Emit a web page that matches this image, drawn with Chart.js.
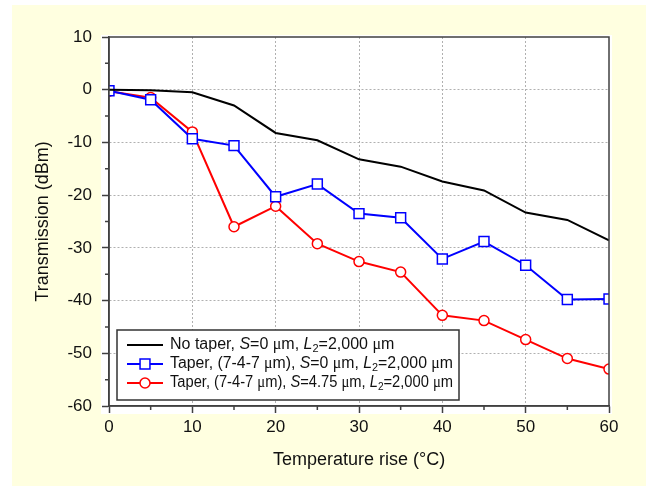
<!DOCTYPE html>
<html>
<head>
<meta charset="utf-8">
<script src="https://cdn.jsdelivr.net/npm/chart.js@4.4.0/dist/chart.umd.min.js"></script>
<style>
html, body { margin: 0; padding: 0; background: #fff; }
#wrap { position: absolute; left: 12px; top: 5px; width: 634px; height: 481px; background: #ffffe0; }
</style>
</head>
<body>
<div id="wrap"><canvas id="chart" width="634" height="481"></canvas></div>
<script>
// data
var temps = [0, 5, 10, 15, 20, 25, 30, 35, 40, 45, 50, 55, 60];
var noTaper = [0, -0.1, -0.5, -3.0, -8.2, -9.6, -13.2, -14.6, -17.4, -19.1, -23.3, -24.7, -28.6];
var taperS0 = [-0.2, -1.9, -9.3, -10.6, -20.3, -17.9, -23.5, -24.3, -32.1, -28.8, -33.3, -39.8, -39.7];
var taperS475 = [-0.3, -1.5, -8.0, -26.0, -22.1, -29.2, -32.6, -34.6, -42.8, -43.8, -47.4, -51.0, -53.0];
var xTicks = [0, 10, 20, 30, 40, 50, 60];
var yTicks = [10, 0, -10, -20, -30, -40, -50, -60];
var xMinor = [5, 15, 25, 35, 45, 55];
var yMinor = [5, -5, -15, -25, -35, -45, -55];

// legend text pieces: n = normal, i = italic, g = greek, s = subscript
var legendRuns = [
    [['No taper, ', 'n'], ['S', 'i'], ['=0 ', 'n'], ['\u03bc', 'g'], ['m, ', 'n'], ['L', 'i'], ['2', 's'], ['=2,000 ', 'n'], ['\u03bc', 'g'], ['m', 'n']],
    [['Taper, (7-4-7 ', 'n'], ['\u03bc', 'g'], ['m), ', 'n'], ['S', 'i'], ['=0 ', 'n'], ['\u03bc', 'g'], ['m, ', 'n'], ['L', 'i'], ['2', 's'], ['=2,000 ', 'n'], ['\u03bc', 'g'], ['m', 'n']],
    [['Taper, (7-4-7 ', 'n'], ['\u03bc', 'g'], ['m), ', 'n'], ['S', 'i'], ['=4.75 ', 'n'], ['\u03bc', 'g'], ['m, ', 'n'], ['L', 'i'], ['2', 's'], ['=2,000 ', 'n'], ['\u03bc', 'g'], ['m', 'n']]
];

function pairs(ys) {
    return temps.map(function (t, i) { return { x: t, y: ys[i] }; });
}

var runFonts = {
    n: '16px "Liberation Sans", Arial, sans-serif',
    i: 'italic 16px "Liberation Sans", Arial, sans-serif',
    g: '16px "Liberation Serif", "Times New Roman", serif',
    s: '11px "Liberation Sans", Arial, sans-serif'
};

function drawRuns(ctx, runs, x, y, maxW) {
    var total = 0;
    runs.forEach(function (r) {
        ctx.font = runFonts[r[1]];
        total += ctx.measureText(r[0]).width;
    });
    var sx = total > maxW ? maxW / total : 1;
    ctx.save();
    ctx.translate(x, y);
    ctx.scale(sx, 1);
    ctx.fillStyle = '#111';
    ctx.textBaseline = 'middle';
    ctx.textAlign = 'left';
    var cx = 0;
    runs.forEach(function (r) {
        ctx.font = runFonts[r[1]];
        ctx.fillText(r[0], cx, r[1] === 's' ? 4 : 0);
        cx += ctx.measureText(r[0]).width;
    });
    ctx.restore();
}

var plotBg = {
    id: 'plotBg',
    beforeDraw: function (chart) {
        var a = chart.chartArea, ctx = chart.ctx;
        ctx.save();
        ctx.fillStyle = '#fff';
        ctx.fillRect(a.left - 8, a.top - 2, a.right - a.left + 11, a.bottom - a.top + 10);
        ctx.restore();
    }
};

var frame = {
    id: 'frame',
    afterDatasetsDraw: function (chart) {
        var a = chart.chartArea, ctx = chart.ctx;
        var xs = chart.scales.x, ys = chart.scales.y;
        ctx.save();
        ctx.strokeStyle = '#404040';
        ctx.lineWidth = 1.5;
        ctx.strokeRect(a.left, a.top, a.right - a.left, a.bottom - a.top);
        ctx.beginPath();
        xMinor.forEach(function (v) {
            var px = xs.getPixelForValue(v);
            ctx.moveTo(px, a.bottom);
            ctx.lineTo(px, a.bottom + 4);
        });
        yMinor.forEach(function (v) {
            var py = ys.getPixelForValue(v);
            ctx.moveTo(a.left, py);
            ctx.lineTo(a.left - 4, py);
        });
        ctx.stroke();

        // legend box
        var bx = a.left + 8, by = a.bottom - 76, bw = 342, bh = 70;
        ctx.fillStyle = '#fff';
        ctx.fillRect(bx, by, bw, bh);
        ctx.strokeStyle = '#333';
        ctx.lineWidth = 1.5;
        ctx.strokeRect(bx, by, bw, bh);
        chart.data.datasets.forEach(function (ds, i) {
            var ry = by + 15 + i * 19;
            ctx.strokeStyle = ds.borderColor;
            ctx.lineWidth = 2;
            ctx.beginPath();
            ctx.moveTo(bx + 10, ry);
            ctx.lineTo(bx + 46, ry);
            ctx.stroke();
            if (ds.pointRadius > 0) {
                ctx.fillStyle = '#fff';
                ctx.strokeStyle = ds.borderColor;
                ctx.lineWidth = 1.5;
                Chart.helpers.drawPoint(ctx, { pointStyle: ds.pointStyle, radius: ds.pointRadius, borderWidth: 1.5 }, bx + 28, ry);
            }
            drawRuns(ctx, legendRuns[i], bx + 53, ry, 283);
        });
        ctx.restore();
    }
};

var tickFont = { family: '"Liberation Sans", Arial, sans-serif', size: 17 };
var titleFont = { family: '"Liberation Sans", Arial, sans-serif', size: 18 };

var ctx = document.getElementById('chart').getContext('2d');
var myChart = new Chart(ctx, {
    type: 'line',
    data: {
        datasets: [{
            label: 'No taper, S=0 \u03bcm, L2=2,000 \u03bcm',
            data: pairs(noTaper),
            borderColor: '#000',
            borderWidth: 2,
            pointRadius: 0
        }, {
            label: 'Taper, (7-4-7 \u03bcm), S=0 \u03bcm, L2=2,000 \u03bcm',
            data: pairs(taperS0),
            borderColor: '#0000ff',
            borderWidth: 2,
            pointStyle: 'rect',
            pointRadius: 7,
            pointBorderWidth: 1.5,
            pointBackgroundColor: '#fff'
        }, {
            label: 'Taper, (7-4-7 \u03bcm), S=4.75 \u03bcm, L2=2,000 \u03bcm',
            data: pairs(taperS475),
            borderColor: '#ff0000',
            borderWidth: 2,
            pointStyle: 'circle',
            pointRadius: 5,
            pointBorderWidth: 1.5,
            pointBackgroundColor: '#fff'
        }]
    },
    options: {
        responsive: false,
        animation: false,
        events: [],
        layout: { padding: { left: 0, right: 37, top: 32, bottom: 0 } },
        elements: { line: { tension: 0 } },
        plugins: { legend: { display: false }, tooltip: { enabled: false } },
        scales: {
            x: {
                type: 'linear',
                min: 0,
                max: 60,
                afterBuildTicks: function (scale) {
                    scale.ticks = xTicks.map(function (v) { return { value: v }; });
                },
                afterFit: function (scale) { scale.height = 80; },
                ticks: { color: '#111', font: tickFont, padding: 4, maxRotation: 0 },
                grid: {
                    color: function (c) { return c.tick && c.tick.value > 0 && c.tick.value < 60 ? '#b0b0b0' : 'rgba(0,0,0,0)'; },
                    lineWidth: 1,
                    tickColor: '#404040',
                    tickWidth: 1.5,
                    tickLength: 7
                },
                border: { color: '#404040', width: 1.5, dash: [2, 2] },
                title: { display: true, text: 'Temperature rise (\u00b0C)', color: '#111', font: titleFont, padding: { top: 0, bottom: 15 } }
            },
            y: {
                min: -60,
                max: 10,
                afterBuildTicks: function (scale) {
                    scale.ticks = yTicks.map(function (v) { return { value: v }; });
                },
                afterFit: function (scale) { scale.width = 97; },
                ticks: { color: '#111', font: tickFont, padding: 10 },
                grid: {
                    color: function (c) { return c.tick && c.tick.value > -60 && c.tick.value < 10 ? '#b0b0b0' : 'rgba(0,0,0,0)'; },
                    lineWidth: 1,
                    tickColor: '#404040',
                    tickWidth: 1.5,
                    tickLength: 7
                },
                border: { color: '#404040', width: 1.5, dash: [2, 2] },
                title: { display: true, text: 'Transmission (dBm)', color: '#111', font: titleFont, padding: { top: 20, bottom: 0 } }
            }
        }
    },
    plugins: [plotBg, frame]
});
</script>
</body>
</html>
